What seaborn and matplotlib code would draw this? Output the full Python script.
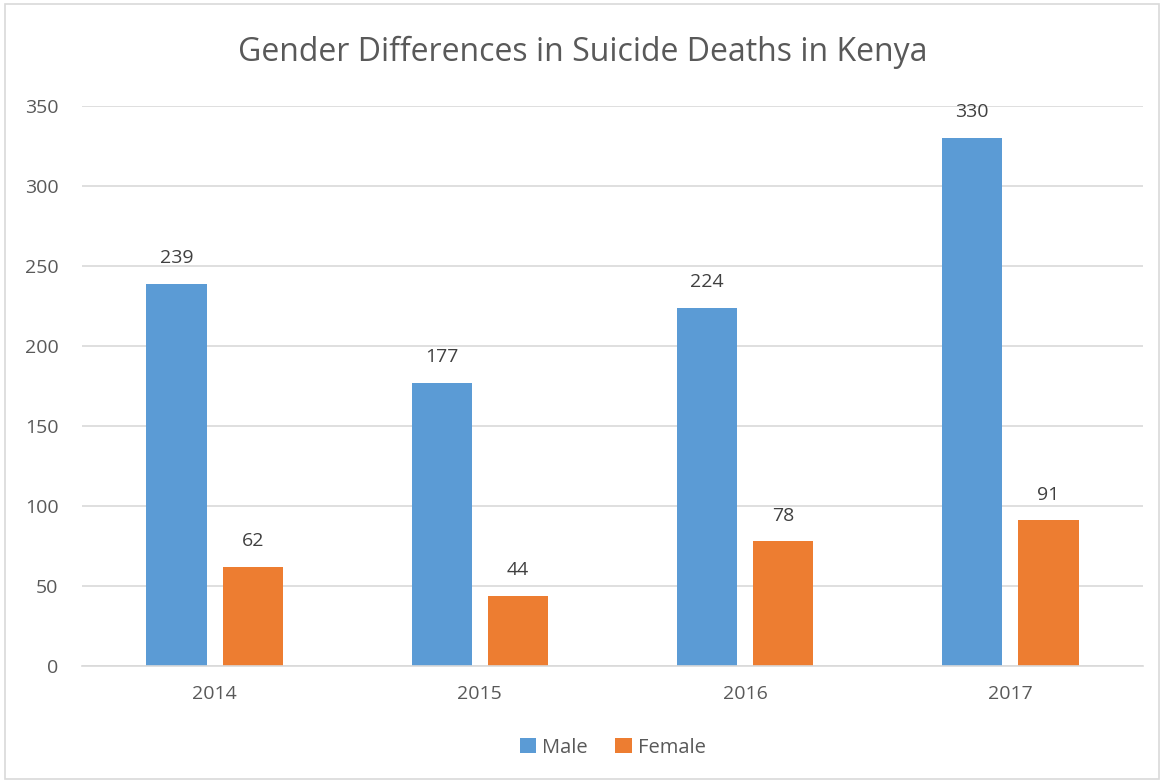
import matplotlib
matplotlib.use("Agg")
import matplotlib.pyplot as plt
import seaborn as sns
import pandas as pd
from matplotlib.patches import Rectangle

years = ["2014", "2015", "2016", "2017"]
male = [239, 177, 224, 330]
female = [62, 44, 78, 91]
series_names = ["Male", "Female"]
colors = ["#5B9BD5", "#ED7D31"]
yticks = [0, 50, 100, 150, 200, 250, 300, 350]

sns.set_theme(style="white")
plt.rcParams['font.family'] = ['Open Sans', 'DejaVu Sans']

df = pd.DataFrame({
    "Year": years * 2,
    "Deaths": male + female,
    "Gender": [series_names[0]] * len(years) + [series_names[1]] * len(years),
})

fig = plt.figure(figsize=(11.65, 7.82), dpi=100)
ax = fig.add_axes([82/1165, 1 - 666/782, (1143-82)/1165, (666-106)/782])

sns.barplot(data=df, x="Year", y="Deaths", hue="Gender", palette=colors,
            width=0.574, gap=0.21, ax=ax, saturation=1, legend=True, linewidth=0)

ax.set_ylim(0, 350)
ax.set_xlim(-0.5, 3.5)
ax.set_yticks(yticks)
ax.set_yticklabels([str(t) for t in yticks])
ax.yaxis.grid(True, color="#D9D9D9", linewidth=1.2)
ax.set_axisbelow(True)
for s in ["top", "right", "left"]:
    ax.spines[s].set_visible(False)
ax.spines["bottom"].set_color("#D9D9D9")
ax.spines["bottom"].set_linewidth(1.2)
ax.tick_params(axis="both", length=0, labelsize=14, labelcolor="#595959")
ax.tick_params(axis="y", pad=17)
ax.tick_params(axis="x", pad=14)
ax.set_xlabel("")
ax.set_ylabel("")

for cont in ax.containers:
    ax.bar_label(cont, padding=12, fontsize=14, color="#404040")

fig.text(0.5, 1 - 52/782, "Gender Differences in Suicide Deaths in Kenya",
         ha="center", va="center", fontsize=23, color="#595959")

leg = ax.legend(loc="center", bbox_to_anchor=(0.5, -0.146), ncol=2, frameon=False,
                fontsize=14.5, handlelength=0.8, handleheight=0.8, columnspacing=1.4,
                handletextpad=0.3)
for t in leg.get_texts():
    t.set_color("#595959")

fig.patches.append(Rectangle((5/1165, 3/782), 1154/1165, 775/782, transform=fig.transFigure,
                             fill=False, edgecolor="#D9D9D9", linewidth=1.2))

fig.savefig("out.png", dpi=100)
